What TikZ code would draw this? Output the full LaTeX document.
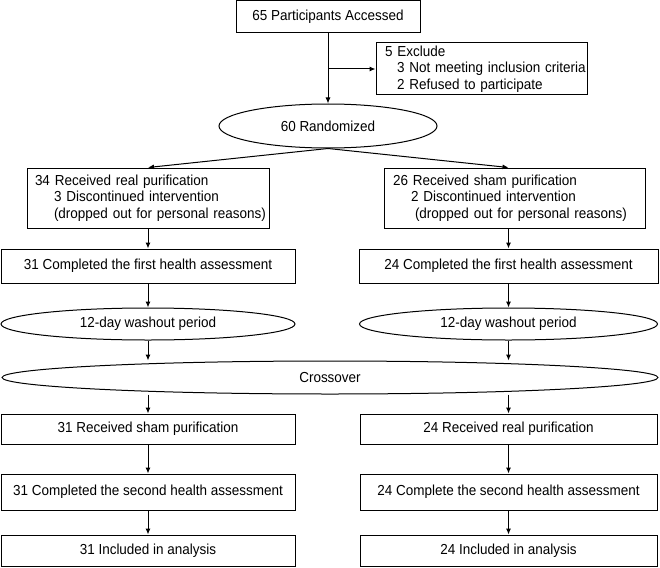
\documentclass[tikz,border=0pt]{standalone}
\usepackage{fontspec}
\setmainfont[FakeStretch=0.93]{Liberation Sans}
\usetikzlibrary{shapes.geometric,arrows.meta}
\begin{document}
\begin{tikzpicture}[x=1pt,y=-1pt,
  font=\fontsize{14.5}{16.3}\selectfont,
  box/.style={draw, line width=1pt, inner sep=0pt, align=center},
  lbox/.style={draw, line width=1pt, inner xsep=8pt, inner ysep=0pt, align=left},
  oval/.style={draw, ellipse, line width=1pt, inner sep=0pt},
  arr/.style={line width=1pt, -{Latex[length=6pt,width=5pt]}}
]
\useasboundingbox (0,0) rectangle (660,567);
% top
\node[box, minimum width=184pt, minimum height=32pt] (top) at (328,17) {65 Participants Accessed};
\node[lbox, text width=193pt, minimum height=52pt, inner xsep=9pt] (excl) at (481.5,69)
  {\mbox{5 Exclude}\\\mbox{\hspace*{12pt}3 Not meeting inclusion criteria}\\\mbox{\hspace*{12pt}2 Refused to participate}};
\node[oval, minimum width=218pt, minimum height=44pt] (rand) at (328,126) {60 Randomized};
% first arm boxes
\node[lbox, text width=226pt, minimum height=60pt] (L1) at (148,198)
  {\mbox{34 Received real purification}\\\mbox{\hspace*{19pt}3 Discontinued intervention}\\\mbox{\hspace*{19pt}(dropped out for personal reasons)}};
\node[lbox, text width=243pt, minimum height=60pt, inner xsep=9pt] (R1) at (514.5,198)
  {\mbox{26 Received sham purification}\\\mbox{\hspace*{18pt}2 Discontinued intervention}\\\mbox{\hspace*{22pt}(dropped out for personal reasons)}};
\node[box, minimum width=294pt, minimum height=34pt] (L2) at (148,266) {31 Completed the first health assessment};
\node[box, minimum width=299pt, minimum height=34pt] (R2) at (508.5,266) {24 Completed the first health assessment};
\node[oval, minimum width=294pt, minimum height=32pt] (LW) at (148,324) {12-day washout period};
\node[oval, minimum width=298pt, minimum height=32pt] (RW) at (508.5,324) {12-day washout period};
\node[oval, minimum width=656pt, minimum height=33pt] (cross) at (330,377.5) {Crossover};
\node[box, minimum width=294pt, minimum height=30pt] (L3) at (148,429) {31 Received sham purification};
\node[box, minimum width=297pt, minimum height=30pt] (R3) at (508.5,429) {24 Received real purification};
\node[box, minimum width=294pt, minimum height=36pt] (L4) at (148,492) {31 Completed the second health assessment};
\node[box, minimum width=297pt, minimum height=36pt] (R4) at (508.5,492) {24 Complete the second health assessment};
\node[box, minimum width=294pt, minimum height=31pt] (L5) at (148,550.5) {31 Included in analysis};
\node[box, minimum width=297pt, minimum height=31pt] (R5) at (508.5,550.5) {24 Included in analysis};
% connectors
\draw[arr] (top.south) -- (rand.north);
\draw[arr] (top.south |- excl.west) -- (excl.west);
\draw[arr] (rand.south) -- (L1.north);
\draw[arr] (rand.south) -- (R2.north |- R1.north);
\draw[arr] (L1.south) -- (L2.north);
\draw[arr] (R2.north |- R1.south) -- (R2.north);
\draw[arr] (L2.south) -- (LW.north);
\draw[arr] (R2.south) -- (RW.north);
\draw[arr] (LW.south) -- (LW.south |- cross.north);
\draw[arr] (RW.south) -- (RW.south |- cross.north);
\draw[arr] (L3.north |- cross.south) -- (L3.north);
\draw[arr] (R3.north |- cross.south) -- (R3.north);
\draw[arr] (L3.south) -- (L4.north);
\draw[arr] (R3.south) -- (R4.north);
\draw[arr] (L4.south) -- (L5.north);
\draw[arr] (R4.south) -- (R5.north);
\end{tikzpicture}
\end{document}
